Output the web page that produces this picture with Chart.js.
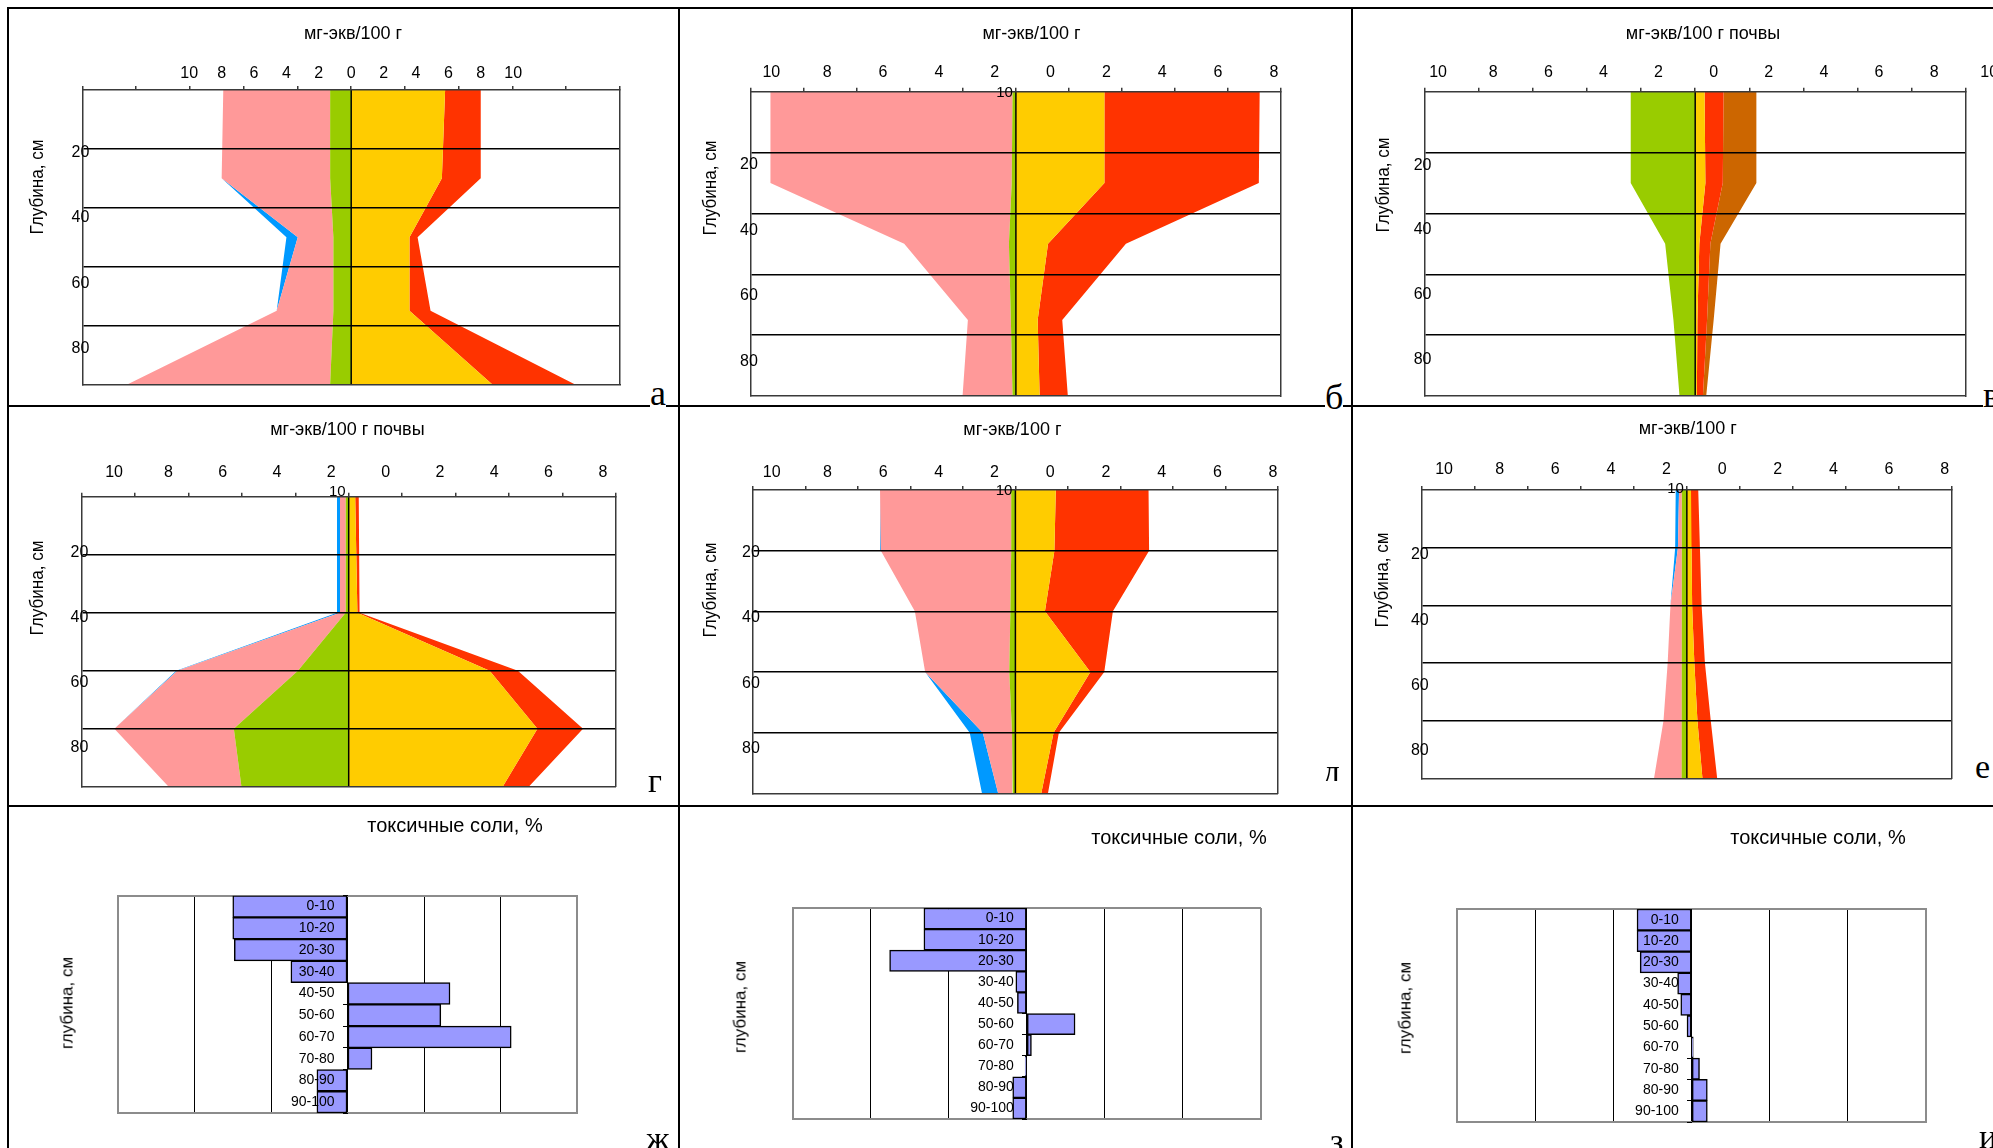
<!DOCTYPE html>
<html lang="ru">
<head>
<meta charset="utf-8">
<title>Солевой профиль почв</title>
<script src="https://cdn.jsdelivr.net/npm/chart.js@4.4.1/dist/chart.umd.min.js"></script>
<style>
  html, body { margin: 0; padding: 0; background: #fff; }
  #sheet { position: relative; width: 1993px; height: 1148px; overflow: hidden; background: #fff; }
  #sheet canvas { position: absolute; }
  .cap { position: absolute; white-space: nowrap; line-height: 1; color: #000;
         font-family: "Liberation Sans", Arial, sans-serif; transform: translate(-50%, -50%); z-index: 3; }
  .cap.up { transform: translate(-50%, -50%) rotate(-90deg); }
  .cap.up.tight { transform: translate(-50%, -50%) rotate(-90deg) scaleX(0.9); }
  .rule { position: absolute; background: #000; z-index: 5; }
  .mark { position: absolute; z-index: 6; overflow: hidden; background: #fff; color: #000;
          font-family: "Liberation Serif", "Times New Roman", serif; line-height: 1; white-space: nowrap; }
</style>
</head>
<body>
<div id="sheet"></div>
<script>
// ---------- depth profiles of exchangeable ions, мг-экв/100 г ----------
// left of the axis: green, pink, blue layers; right: yellow, red, brown layers
const depthA  = [0, 30, 50, 75, 100];
const greenA  = [1.3, 1.3, 1.1, 1.1, 1.3];
const pinkA   = [6.6, 6.7, 2.2, 3.5, 12.5];
const blueA   = [0, 0, 0.7, 0, 0];
const yellowA = [5.8, 5.6, 3.6, 3.6, 8.7];
const redA    = [2.2, 2.4, 0.5, 1.3, 5.1];

const depthB  = [0, 30, 50, 75, 100];
const greenB  = [0.12, 0.15, 0.25, 0.18, 0.12];
const pinkB   = [8.67, 8.64, 3.75, 1.54, 1.79];
const yellowB = [3.17, 3.17, 1.15, 0.78, 0.85];
const redB    = [5.56, 5.53, 2.79, 0.88, 1.01];

const depthV  = [0, 30, 50, 75, 100];
const greenV  = [2.34, 2.34, 1.09, 0.79, 0.57];
const yellowV = [0.34, 0.37, 0.15, 0.08, 0.06];
const redV    = [0.69, 0.63, 0.40, 0.35, 0.22];
const brownV  = [1.19, 1.22, 0.37, 0.24, 0.12];

const depthG  = [0, 40, 60, 80, 100];
const greenG  = [0.11, 0.11, 1.87, 4.23, 3.95];
const pinkG   = [0.21, 0.21, 4.44, 4.40, 2.68];
const blueG   = [0.11, 0.11, 0.04, 0, 0];
const yellowG = [0.24, 0.32, 5.19, 6.95, 5.67];
const redG    = [0.13, 0.08, 1.04, 1.68, 0.96];

const depthD  = [0, 20, 40, 60, 80, 100];
const greenD  = [0.15, 0.15, 0.18, 0.22, 0.12, 0.10];
const pinkD   = [4.71, 4.68, 3.43, 3.02, 1.05, 0.52];
const blueD   = [0, 0, 0, 0, 0.47, 0.58];
const yellowD = [1.45, 1.40, 1.06, 2.69, 1.37, 0.93];
const redD    = [3.33, 3.40, 2.44, 0.50, 0.19, 0.24];

const depthE  = [0, 20, 40, 60, 80, 100];
const greenE  = [0.18, 0.18, 0.18, 0.18, 0.19, 0.20];
const pinkE   = [0.10, 0.14, 0.41, 0.51, 0.65, 0.98];
const blueE   = [0.12, 0.10, 0, 0, 0, 0];
const yellowE = [0.15, 0.17, 0.19, 0.27, 0.38, 0.56];
const redE    = [0.26, 0.30, 0.34, 0.38, 0.48, 0.53];

// tick labels of the concentration and depth axes
const concLabels8  = [-10, -8, -6, -4, -2, 0, 2, 4, 6, 8];
const concLabels10 = [-10, -8, -6, -4, -2, 0, 2, 4, 6, 8, 10];
const depthLabels  = [20, 40, 60, 80];
const depthGrid    = [20, 40, 60, 80];

// ---------- toxic salts by 10 cm layers ----------
const depthBins   = ['0-10', '10-20', '20-30', '30-40', '40-50', '50-60', '60-70', '70-80', '80-90', '90-100'];
const toxicSaltsZh = [-0.75, -0.75, -0.74, -0.37, 0.67, 0.61, 1.07, 0.16, -0.20, -0.20];
const toxicSaltsZe = [-0.66, -0.66, -0.88, -0.07, -0.06, 0.31, 0.03, -0.01, -0.09, -0.09];
const toxicSaltsI  = [-0.35, -0.35, -0.33, -0.09, -0.07, -0.03, 0.01, 0.05, 0.10, 0.10];
const saltSpan = 1.5, saltStep = 0.5;

const COLORS = { green: '#99CC00', pink: '#FF9999', blue: '#0099FF',
                 yellow: '#FFCC00', red: '#FF3300', brown: '#CC6600', bar: '#9999FF' };

// ---------- fonts ----------
const SANS = '"Liberation Sans", Arial, sans-serif';
const tickFont  = { family: SANS, size: 16 };
const tagFont   = { family: SANS, size: 15 };
const depthFont = { family: SANS, size: 16 };
const binFont   = { family: SANS, size: 14 };

const measureCtx = document.createElement('canvas').getContext('2d');
function textWidth(font, text) {
  measureCtx.font = font.size + 'px ' + font.family;
  return measureCtx.measureText(text).width;
}

Chart.defaults.color = '#000';
Chart.defaults.font.family = SANS;

const sheet = document.getElementById('sheet');

function addCanvas(box) {
  const c = document.createElement('canvas');
  c.width = box.w; c.height = box.h;
  c.style.left = box.x + 'px'; c.style.top = box.y + 'px';
  c.style.width = box.w + 'px'; c.style.height = box.h + 'px';
  sheet.appendChild(c);
  return c;
}
function padOf(p) {
  return { left: p.plot.l - p.box.x, top: p.plot.t - p.box.y,
           right: p.box.x + p.box.w - p.plot.r, bottom: p.box.y + p.box.h - p.plot.b };
}
const flat = s => { s.height = 0; s.paddingLeft = s.paddingRight = s.paddingTop = s.paddingBottom = 0; };
const thin = s => { s.width = 0; s.paddingLeft = s.paddingRight = s.paddingTop = s.paddingBottom = 0; };

// small "10" tag written beside the top of the zero line
const centreTag = {
  id: 'centreTag',
  afterDraw(chart, args, opts) {
    if (!opts || !opts.text) return;
    const { ctx, chartArea } = chart;
    const x = chart.scales.x.getPixelForValue(0);
    ctx.save();
    ctx.font = tagFont.size + 'px ' + tagFont.family;
    ctx.textAlign = 'right'; ctx.textBaseline = 'middle'; ctx.fillStyle = '#000';
    ctx.fillText(opts.text, x - 3, chartArea.top + opts.dy);
    ctx.restore();
  }
};

const FRAME = '#3a3a3a';
const depthLabelWidth = textWidth(depthFont, '20');

function profileChart(p) {
  const canvas = addCanvas(p.box);
  const datasets = [];
  const addSide = (layers, sign, stack) => {
    layers.forEach(([vals, color], k) => {
      datasets.push({
        data: p.depth.map((d, i) => ({ x: sign * vals[i], y: d })),
        backgroundColor: color, borderWidth: 0, pointRadius: 0, tension: 0,
        fill: k === 0 ? 'origin' : '-1', stack, xAxisID: 'x', yAxisID: 'y'
      });
    });
  };
  addSide(p.left, -1, 'left');
  addSide(p.right, 1, 'right');
  datasets.push({
    data: [{ x: 0, y: 0 }, { x: 0, y: 100 }], borderColor: '#000', borderWidth: 1.5,
    pointRadius: 0, fill: false, stack: 'axis', order: -1, xAxisID: 'x', yAxisID: 'y'
  });

  const R = p.R, c = p.shift;
  // mirrored top labels are centred half a line below (bottom + padding)
  const labelPad = -p.tickGap - 0.6 * tickFont.size;

  new Chart(canvas, {
    type: 'line',
    data: { datasets },
    plugins: [centreTag],
    options: {
      indexAxis: 'y', responsive: false, animation: false, events: [],
      layout: { padding: padOf(p) },
      plugins: { legend: { display: false }, tooltip: { enabled: false }, centreTag: p.tag || {} },
      scales: {
        x: {
          type: 'linear', position: 'top', min: -R, max: R, stacked: true,
          afterBuildTicks: s => { s.ticks = Array.from({ length: 11 }, (_, i) => ({ value: -R + i * R / 5 })); },
          ticks: { display: false },
          grid: { display: true, drawOnChartArea: false, drawTicks: true, tickLength: 4, color: FRAME, lineWidth: 1.5, z: 1 },
          border: { display: true, color: FRAME, width: 1.5, z: 1 },
          afterFit: flat
        },
        xl: {
          type: 'linear', position: 'top', min: -R + c, max: R + c,
          afterBuildTicks: s => { s.ticks = p.labels.map(v => ({ value: v })); },
          ticks: { display: true, mirror: true, autoSkip: false, maxRotation: 0, minRotation: 0, padding: labelPad,
                   font: tickFont, color: '#000', callback: v => String(Math.abs(v)) },
          grid: { display: false, drawTicks: false }, border: { display: false },
          afterFit: flat
        },
        xb: {
          type: 'linear', position: 'bottom', min: -R, max: R,
          ticks: { display: false }, grid: { display: false, drawTicks: false },
          border: { display: true, color: FRAME, width: 1.5, z: 1 }, afterFit: flat
        },
        y: {
          type: 'linear', position: 'left', reverse: true, min: 0, max: 100,
          afterBuildTicks: s => { s.ticks = depthGrid.map(v => ({ value: v })); },
          ticks: { display: false },
          grid: { display: true, drawOnChartArea: true, drawTicks: false, color: '#000', lineWidth: 1.5, z: 1 },
          border: { display: true, color: FRAME, width: 1.5, z: 1 },
          afterFit: thin
        },
        yl: {
          type: 'linear', position: 'left', reverse: true, min: p.yl[0], max: p.yl[1],
          afterBuildTicks: s => { s.ticks = depthLabels.map(v => ({ value: v })); },
          ticks: { display: true, mirror: true, padding: -2 - depthLabelWidth / 2, font: depthFont,
                   color: '#000', autoSkip: false, z: 2 },
          grid: { display: false, drawTicks: false }, border: { display: false },
          afterFit: thin
        },
        yr: {
          type: 'linear', position: 'right', min: 0, max: 100,
          ticks: { display: false }, grid: { display: false, drawTicks: false },
          border: { display: true, color: FRAME, width: 1.5, z: 1 }, afterFit: thin
        }
      }
    }
  });
}

const binWidest = Math.max(...depthBins.map(t => textWidth(binFont, t)));

function saltChart(p) {
  const canvas = addCanvas(p.box);
  const half = (p.plot.r - p.plot.l) / 2;
  const edge = ctx => ctx.tick && Math.abs(Math.abs(ctx.tick.value) - saltSpan) < 1e-6;
  new Chart(canvas, {
    type: 'bar',
    data: {
      labels: depthBins,
      datasets: [{
        data: p.values, backgroundColor: COLORS.bar, borderColor: '#000', borderWidth: 1.5,
        borderSkipped: false, barPercentage: 1, categoryPercentage: 1, xAxisID: 'x', yAxisID: 'y'
      }]
    },
    options: {
      indexAxis: 'y', responsive: false, animation: false, events: [],
      layout: { padding: padOf(p) },
      plugins: { legend: { display: false }, tooltip: { enabled: false } },
      scales: {
        x: {
          type: 'linear', position: 'bottom', min: -saltSpan, max: saltSpan,
          ticks: { display: false, stepSize: saltStep },
          grid: { display: true, drawTicks: false,
                  color: ctx => edge(ctx) ? '#8c8c8c' : '#000', lineWidth: ctx => edge(ctx) ? 2 : 1 },
          border: { display: true, color: '#8c8c8c', width: 2 }, afterFit: flat
        },
        xt: {
          type: 'linear', position: 'top', min: -saltSpan, max: saltSpan,
          ticks: { display: false }, grid: { display: false, drawTicks: false },
          border: { display: true, color: '#8c8c8c', width: 2 }, afterFit: flat
        },
        y: {
          type: 'category', position: 'left', offset: true,
          // right-aligned labels ending 13 px left of the zero line
          ticks: { font: binFont, color: '#000', mirror: true, crossAlign: 'far',
                   padding: half - 13 - binWidest, autoSkip: false, z: 1 },
          grid: { display: false, drawTicks: false, offset: true }, border: { display: false },
          afterFit: thin
        },
        yt: {
          type: 'category', position: { x: 0 }, offset: true,
          ticks: { display: false },
          grid: { display: true, drawOnChartArea: false, drawTicks: true, tickLength: 5, color: '#000', offset: true, z: 1 },
          border: { display: false }, afterFit: thin
        }
      }
    }
  });
}

// ---------- panels ----------
profileChart({ box: { x: 9, y: 9, w: 668, h: 395 }, plot: { l: 82.4, t: 90, r: 620, b: 384.3 },
  R: 16.6, shift: 0, yl: [0.8, 90.9], labels: concLabels10, tickGap: 16, depth: depthA,
  left: [[greenA, COLORS.green], [pinkA, COLORS.pink], [blueA, COLORS.blue]],
  right: [[yellowA, COLORS.yellow], [redA, COLORS.red]] });

profileChart({ box: { x: 680, y: 9, w: 670, h: 395 }, plot: { l: 750.9, t: 91.7, r: 1280.9, b: 396 },
  R: 9.49, shift: -1.24, yl: [-2.3, 90.5], labels: concLabels8, tickGap: 19, depth: depthB,
  tag: { text: '10', dy: 1 },
  left: [[greenB, COLORS.green], [pinkB, COLORS.pink]],
  right: [[yellowB, COLORS.yellow], [redB, COLORS.red]] });

profileChart({ box: { x: 1353, y: 9, w: 640, h: 395 }, plot: { l: 1424.6, t: 91.7, r: 1965.8, b: 396 },
  R: 9.82, shift: -0.67, yl: [-2.7, 91.3], labels: concLabels10, tickGap: 19, depth: depthV,
  left: [[greenV, COLORS.green]],
  right: [[yellowV, COLORS.yellow], [redV, COLORS.red], [brownV, COLORS.brown]] });

profileChart({ box: { x: 9, y: 407, w: 668, h: 397 }, plot: { l: 81.5, t: 496.7, r: 615.9, b: 786.7 },
  R: 9.84, shift: -1.36, yl: [2.8, 92.1], labels: concLabels8, tickGap: 24.5, depth: depthG,
  tag: { text: '10', dy: -5 },
  left: [[greenG, COLORS.green], [pinkG, COLORS.pink], [blueG, COLORS.blue]],
  right: [[yellowG, COLORS.yellow], [redG, COLORS.red]] });

profileChart({ box: { x: 680, y: 407, w: 670, h: 397 }, plot: { l: 753, t: 490, r: 1277.8, b: 793.3 },
  R: 9.42, shift: -1.25, yl: [0.9, 93.7], labels: concLabels8, tickGap: 17.8, depth: depthD,
  tag: { text: '10', dy: 1 },
  left: [[greenD, COLORS.green], [pinkD, COLORS.pink], [blueD, COLORS.blue]],
  right: [[yellowD, COLORS.yellow], [redD, COLORS.red]] });

profileChart({ box: { x: 1353, y: 407, w: 640, h: 397 }, plot: { l: 1421.8, t: 490, r: 1951.9, b: 778.3 },
  R: 9.53, shift: -1.27, yl: [0.1, 88.4], labels: concLabels8, tickGap: 20.3, depth: depthE,
  tag: { text: '10', dy: -1.5 },
  left: [[greenE, COLORS.green], [pinkE, COLORS.pink], [blueE, COLORS.blue]],
  right: [[yellowE, COLORS.yellow], [redE, COLORS.red]] });

saltChart({ box: { x: 9, y: 807, w: 668, h: 341 }, plot: { l: 118, t: 895.7, r: 577, b: 1113 }, values: toxicSaltsZh });
saltChart({ box: { x: 680, y: 807, w: 670, h: 341 }, plot: { l: 793, t: 908, r: 1260.5, b: 1119 }, values: toxicSaltsZe });
saltChart({ box: { x: 1353, y: 807, w: 640, h: 341 }, plot: { l: 1457.4, t: 909, r: 1926, b: 1122 }, values: toxicSaltsI });

// ---------- captions ----------
function caption(text, x, y, size, cls) {
  const d = document.createElement('div');
  d.className = 'cap' + (cls ? ' ' + cls : '');
  d.textContent = text;
  d.style.left = x + 'px'; d.style.top = y + 'px'; d.style.fontSize = size + 'px';
  sheet.appendChild(d);
}
caption('мг-экв/100 г', 353, 33, 18);
caption('мг-экв/100 г', 1031.5, 33.3, 18);
caption('мг-экв/100 г почвы', 1703, 32.8, 18);
caption('мг-экв/100 г почвы', 347.4, 429.3, 18);
caption('мг-экв/100 г', 1012.4, 429.3, 18);
caption('мг-экв/100 г', 1687.8, 428.3, 18);
[[36, 186.7], [708.5, 188.3], [1381.5, 185], [36, 588.3], [708.5, 590], [1380.5, 580]]
  .forEach(([x, y]) => caption('Глубина, см', x, y, 19, 'up tight'));
caption('токсичные соли, %', 455, 825, 20);
caption('токсичные соли, %', 1179, 837, 20);
caption('токсичные соли, %', 1818, 837, 20);
[[67, 1003], [740, 1007], [1404.5, 1008]].forEach(([x, y]) => caption('глубина, см', x, y, 17, 'up'));

// ---------- cell rules ----------
function rule(x, y, w, h) {
  const d = document.createElement('div');
  d.className = 'rule';
  Object.assign(d.style, { left: x + 'px', top: y + 'px', width: w + 'px', height: h + 'px' });
  sheet.appendChild(d);
}
rule(7, 7, 1986, 2); rule(7, 404.5, 1986, 2); rule(7, 805, 1986, 2);
rule(7, 7, 2, 1141); rule(677.5, 7, 2, 1141); rule(1350.5, 7, 2, 1141);

// ---------- panel letters ----------
function letter(ch, left, baseline, size, below) {
  const asc = 0.8375 * size;          // baseline offset inside a line-height:1 box
  const d = document.createElement('div');
  d.className = 'mark';
  d.textContent = ch;
  d.style.fontSize = size + 'px';
  d.style.left = left + 'px';
  d.style.top = (baseline - asc) + 'px';
  d.style.height = (asc + below) + 'px';
  sheet.appendChild(d);
}
letter('а', 650, 405, 36, 3);
letter('б', 1325, 409, 36, 2);
letter('в', 1983, 407, 36, 2);
letter('г', 648, 792, 34, 1);
letter('д', 1323, 783, 34, -1.5);
letter('е', 1975, 778, 34, 1);
letter('ж', 646, 1150, 34, 2);
letter('з', 1330, 1152, 34, 2);
letter('и', 1979, 1148, 34, 2);
</script>
</body>
</html>
